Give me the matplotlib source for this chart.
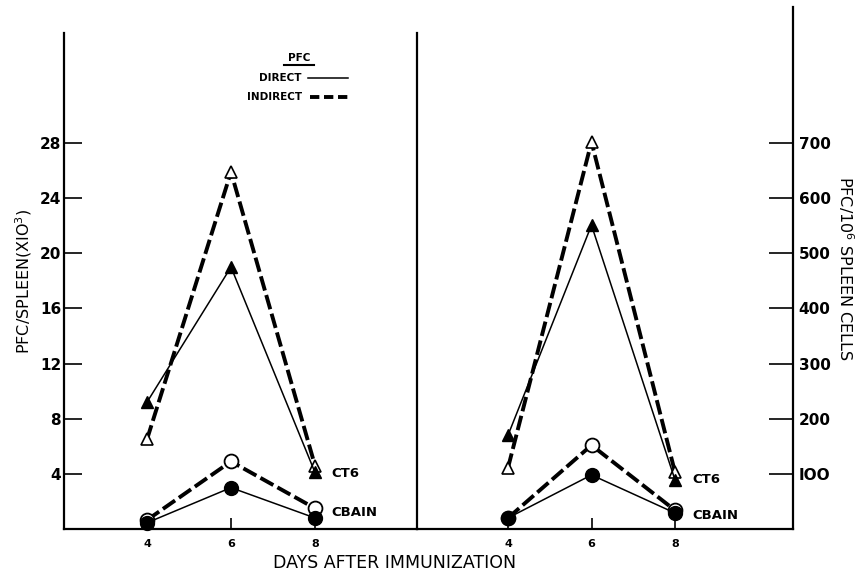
import matplotlib
matplotlib.use("Agg")
import matplotlib.pyplot as plt
from matplotlib.lines import Line2D

plt.rcParams['font.family'] = ['DejaVu Sans']

days = [4, 6, 8]

# left panel: PFC per spleen (x10^3)
ct6_direct_spleen = [9.2, 19.0, 4.1]
ct6_indirect_spleen = [6.5, 25.9, 4.6]
cbain_direct_spleen = [0.45, 3.0, 0.8]
cbain_indirect_spleen = [0.65, 4.9, 1.5]

# right panel: PFC per 10^6 spleen cells
ct6_direct_cells = [170, 551, 89]
ct6_indirect_cells = [111, 702, 103]
cbain_direct_cells = [20, 98, 29]
cbain_indirect_cells = [20, 152, 34]

left_ticks = [4, 8, 12, 16, 20, 24, 28]
right_ticks = [100, 200, 300, 400, 500, 600, 700]

W, H = 865, 576
fig = plt.figure(figsize=(W / 100, H / 100), dpi=100)

base = 529
axR = fig.add_axes([417 / W, (H - base) / H, 376 / W, (base - 7) / H])
axL = fig.add_axes([64 / W, (H - base) / H, 353 / W, (base - 33) / H])
axL.patch.set_visible(False)
axR.patch.set_visible(False)

DASH = (3.8, 1.2)
thin = dict(color='black', lw=1.1, clip_on=False, zorder=3)
thick = dict(color='black', lw=2.8, dashes=DASH, clip_on=False, zorder=3)


def draw(ax, ct6_d, ct6_i, cb_d, cb_i):
    ax.plot(days, ct6_i, marker='^', ms=8, mfc='white', mec='black', mew=1.2, **thick)
    ax.plot(days, ct6_d, marker='^', ms=8, mfc='black', mec='black', **thin)
    ax.plot(days, cb_i, marker='o', ms=10, mfc='white', mec='black', mew=1.3, **thick)
    ax.plot(days, cb_d, marker='o', ms=10, mfc='black', mec='black', **thin)
    ax.set_xticks(days)
    ax.set_xticklabels([str(d) for d in days], fontsize=8, fontweight='bold')
    ax.tick_params(axis='x', direction='in', length=8, width=1.2, pad=7)
    ax.spines['bottom'].set_linewidth(1.6)
    ax.spines['top'].set_visible(False)


draw(axL, ct6_direct_spleen, ct6_indirect_spleen, cbain_direct_spleen, cbain_indirect_spleen)
draw(axR, ct6_direct_cells, ct6_indirect_cells, cbain_direct_cells, cbain_indirect_cells)

pxL = (base - 143) / 28
axL.set_xlim(4 - 83 / 42, 8 + 102 / 42)
axL.set_ylim(0, (base - 33) / pxL)
axL.set_yticks(left_ticks)
axL.set_yticklabels([str(t) for t in left_ticks], fontsize=11, fontweight='bold')
axL.tick_params(axis='y', direction='in', length=13, width=1.2, pad=2)
for s in ['left', 'right']:
    axL.spines[s].set_linewidth(1.6)
axL.set_ylabel('PFC/SPLEEN(XIO$^3$)', fontsize=11.5, labelpad=4)

pxR = (base - 143) / 700
axR.set_xlim(4 - 91 / 41.75, 8 + 118 / 41.75)
axR.set_ylim(0, (base - 7) / pxR)
axR.spines['left'].set_visible(False)
axR.spines['right'].set_linewidth(1.6)
axR.yaxis.tick_right()
axR.yaxis.set_label_position('right')
axR.set_yticks(right_ticks)
axR.set_yticklabels(['IOO' if t == 100 else str(t) for t in right_ticks], fontsize=11, fontweight='bold')
axR.tick_params(axis='y', direction='in', length=17, width=1.2, pad=4)
axR.set_ylabel('PFC/10$^6$ SPLEEN CELLS', fontsize=11.5, rotation=-90, labelpad=18)

# strain labels
axL.text(8.4, 4.06, 'CT6', fontsize=9.5, fontweight='bold', va='center')
axL.text(8.4, 1.23, 'CBAIN', fontsize=9.5, fontweight='bold', va='center')
axR.text(8.41, 89, 'CT6', fontsize=9.5, fontweight='bold', va='center')
axR.text(8.41, 25, 'CBAIN', fontsize=9.5, fontweight='bold', va='center')

fig.text(395 / W, 1 - 563 / H, 'DAYS AFTER IMMUNIZATION', fontsize=12.5,
         ha='center', va='center')

# line-style key
fig.text(299 / W, 1 - 58 / H, 'PFC', fontsize=7.5, fontweight='bold', ha='center', va='center')
fig.add_artist(Line2D([284 / W, 314 / W], [1 - 65 / H, 1 - 65 / H], color='black', lw=1.5))
fig.text(302 / W, 1 - 78 / H, 'DIRECT', fontsize=7.5, fontweight='bold', ha='right', va='center')
fig.add_artist(Line2D([308 / W, 348 / W], [1 - 78 / H, 1 - 78 / H], color='black', lw=1.1))
fig.text(302 / W, 1 - 97 / H, 'INDIRECT', fontsize=7.5, fontweight='bold', ha='right', va='center')
fig.add_artist(Line2D([310 / W, 348 / W], [1 - 97 / H, 1 - 97 / H], color='black', lw=2.8,
                      dashes=(2.4, 1.2)))

fig.savefig('out.png', dpi=100)
